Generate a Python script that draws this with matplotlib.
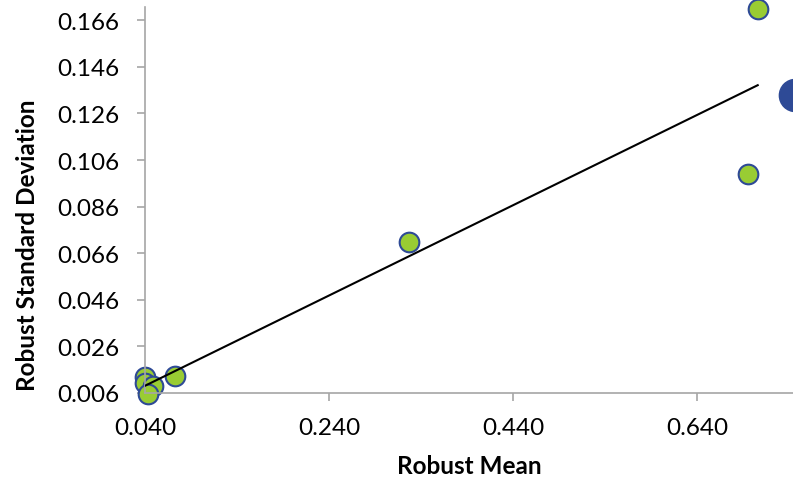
import numpy as np
import matplotlib.pyplot as plt

plt.rcParams["font.family"] = ["Lato", "DejaVu Sans"]

# green series (robust mean vs robust standard deviation)
mean_x = [0.040, 0.040, 0.0487, 0.0433, 0.0726, 0.327, 0.695, 0.706]
sd_y = [0.0129, 0.0103, 0.0090, 0.0056, 0.0133, 0.0708, 0.100, 0.171]
# highlighted point
hi_x = [0.7465]
hi_y = [0.134]

xticks = [0.040, 0.240, 0.440, 0.640]
yticks = [0.006, 0.026, 0.046, 0.066, 0.086, 0.106, 0.126, 0.146, 0.166]

fig = plt.figure(figsize=(7.93, 4.81), dpi=100)
ax = fig.add_axes([145 / 793, 1 - 394 / 481, 1 - 145 / 793, (394 - 8) / 481])

# linear trendline over green series
coef = np.polyfit(mean_x, sd_y, 1)
fx = np.array([min(mean_x), max(mean_x)])
ax.plot(fx, np.polyval(coef, fx), color="black", lw=1.5, zorder=3)

ax.scatter(mean_x, sd_y, s=200, color="#99CC33", edgecolor="#2E4A96",
           linewidth=1.5, zorder=2, clip_on=False)
ax.scatter(hi_x, hi_y, s=540, color="#2E4A96", edgecolor="#2E4A96",
           zorder=2, clip_on=False)

ax.set_xlim(0.040, 0.040 + (793 - 145) / 920)
ax.set_ylim(0.006, 0.006 + 386 / 2330)
ax.set_xticks(xticks)
ax.set_xticklabels([f"{v:.3f}" for v in xticks])
ax.set_yticks(yticks)
ax.set_yticklabels([f"{v:.3f}" for v in yticks])

for s in ["top", "right"]:
    ax.spines[s].set_visible(False)
for s in ["left", "bottom"]:
    ax.spines[s].set_color("#A6A6A6")
    ax.spines[s].set_linewidth(1.2)
ax.tick_params(axis="both", colors="#A6A6A6", length=5.5, width=1.2,
               labelcolor="black", labelsize=17.5)
ax.tick_params(axis="y", pad=13)
ax.tick_params(axis="x", pad=12)

ax.set_xlabel("Robust Mean", fontsize=17.5, fontweight="bold", labelpad=11)
ax.set_ylabel("Robust Standard Deviation", fontsize=17.5, fontweight="bold",
              labelpad=13, y=0.386)

fig.savefig("out.png", dpi=100)
